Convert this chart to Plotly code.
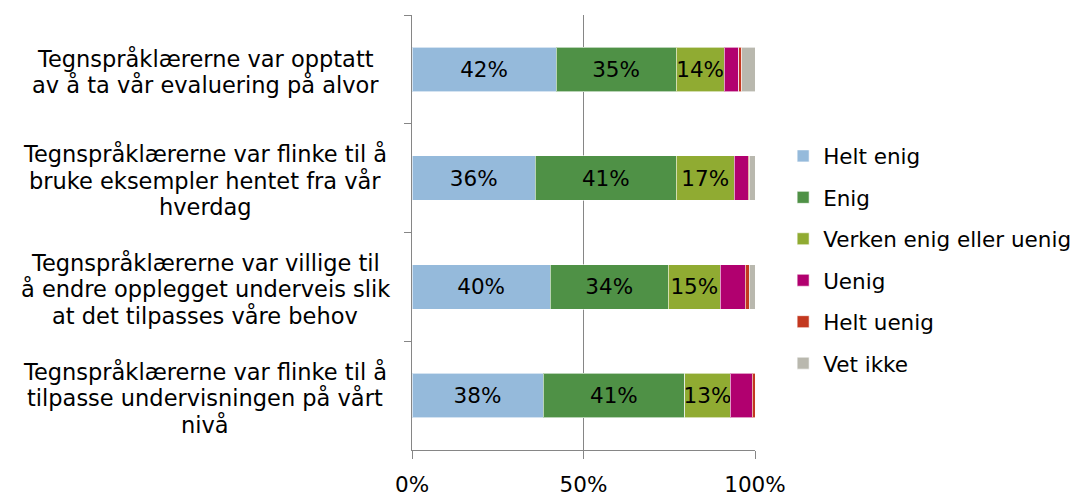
import plotly.graph_objects as go

categories = [
    "Tegnspråklærerne var opptatt<br>av å ta vår evaluering på alvor",
    "Tegnspråklærerne var flinke til å<br>bruke eksempler hentet fra vår<br>hverdag",
    "Tegnspråklærerne var villige til<br>å endre opplegget underveis slik<br>at det tilpasses våre behov",
    "Tegnspråklærerne var flinke til å<br>tilpasse undervisningen på vårt<br>nivå",
]
series_names = ["Helt enig", "Enig", "Verken enig eller uenig", "Uenig", "Helt uenig", "Vet ikke"]
helt_enig = [42.0, 36.0, 40.3, 38.2]
enig = [35.0, 41.0, 34.4, 41.3]
verken = [14.0, 17.0, 15.2, 13.3]
uenig = [4.2, 4.0, 7.2, 6.4]
helt_uenig = [0.9, 0.3, 1.2, 0.8]
vet_ikke = [3.9, 1.7, 1.7, 0.0]
series_values = [helt_enig, enig, verken, uenig, helt_uenig, vet_ikke]
show_labels = [True, True, True, False, False, False]
colors = ["#95BADB", "#4F9146", "#90AB32", "#B1006F", "#C3381F", "#B9B8AE"]
x_ticks = [0, 50, 100]
x_tick_labels = ["0%", "50%", "100%"]

FONT = "DejaVu Sans"
fig = go.Figure()
for name, vals, col, lab in zip(series_names, series_values, colors, show_labels):
    fig.add_trace(go.Bar(
        y=categories, x=vals, name=name, orientation="h",
        marker=dict(color=col, line=dict(color="rgba(255,255,255,0.6)", width=1)),
        text=[f"{round(v)}%" for v in vals] if lab else None,
        textposition="inside" if lab else "none",
        insidetextanchor="middle", textangle=0,
        textfont=dict(family=FONT, size=21.5, color="black"),
        legendgroup=name, width=0.41, hoverinfo="skip",
    ))

LINE_H = 26.5
for c in categories:
    lines = c.split("<br>")
    n = len(lines)
    for i, ln in enumerate(lines):
        fig.add_annotation(x=-0.603, y=c, xref="paper", yref="y", text=ln, showarrow=False,
                           xanchor="center", yanchor="middle", align="center",
                           yshift=((n - 1) / 2 - i) * LINE_H - 2,
                           font=dict(family=FONT, size=22.5, color="black"))

fig.update_layout(
    barmode="stack",
    width=1075, height=490,
    margin=dict(l=404, r=328, t=7, b=48, autoexpand=False),
    plot_bgcolor="white", paper_bgcolor="white",
    font=dict(family=FONT, size=21, color="black"),
    uniformtext=dict(minsize=21.5, mode="show"),
    legend=dict(x=1.082, y=0.437, xanchor="left", yanchor="middle",
                font=dict(family=FONT, size=21.5, color="black"),
                tracegroupgap=10.5, itemwidth=30, bgcolor="rgba(0,0,0,0)"),
    xaxis=dict(range=[0, 100], tickvals=x_ticks, ticktext=x_tick_labels, automargin=False,
               showgrid=True, gridcolor="#868686", gridwidth=1, zeroline=False,
               showline=True, linecolor="#868686", linewidth=1,
               ticks="outside", ticklen=8, tickcolor="#868686",
               ticklabelstandoff=7, tickfont=dict(family=FONT, size=21.5)),
    yaxis=dict(autorange="reversed", showticklabels=False, tickson="boundaries", automargin=False,
               ticks="outside", ticklen=7, tickcolor="#868686",
               showline=True, linecolor="#868686", linewidth=1, showgrid=False),
)
fig.write_html("out.html")
